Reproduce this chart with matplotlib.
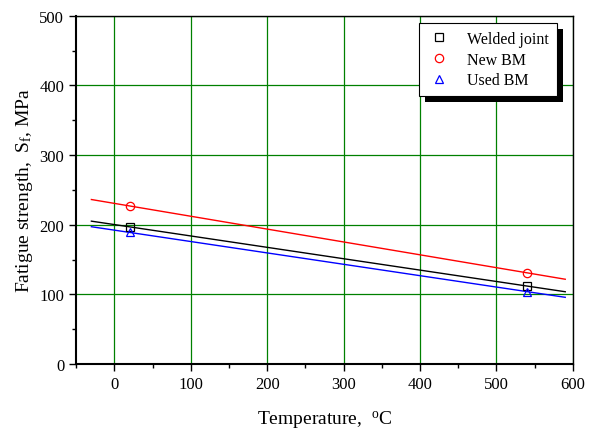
import matplotlib
matplotlib.use("Agg")
import matplotlib.pyplot as plt
from matplotlib.patches import Rectangle
import numpy as np

# measured points
temps = [20, 540]
welded = [197, 112]
new_bm = [227, 131]
used_bm = [189, 104]
fit_range = [-30, 590]

plt.rcParams['font.family'] = ['Liberation Serif', 'DejaVu Serif']
plt.rcParams['mathtext.fontset'] = 'custom'
plt.rcParams['mathtext.rm'] = 'Liberation Serif'
plt.rcParams['mathtext.it'] = 'Liberation Serif'


def main():
    font_size = 12
    fig = plt.figure(figsize=(5.9, 4.31), dpi=100)
    ax = fig.add_axes([0.129, 0.153, 0.842, 0.808])

    xs = np.array(fit_range, dtype=float)
    series = [
        (welded, 'k', 's', 'Welded joint'),
        (new_bm, 'red', 'o', 'New BM'),
        (used_bm, 'blue', '^', 'Used BM'),
    ]
    for vals, color, marker, label in series:
        slope, icpt = np.polyfit(temps, vals, 1)
        ax.plot(xs, slope * xs + icpt, color=color, lw=1.0, zorder=3)
        ax.plot(temps, vals, ls='none', marker=marker, ms=6, mfc='none',
                mec=color, mew=0.9, label=label, zorder=4)

    ax.set_xlim(-50, 600)
    ax.set_ylim(0, 500)
    ax.set_xticks(range(0, 601, 100))
    ax.set_xticks(range(-50, 601, 50), minor=True)
    ax.set_yticks(range(0, 501, 100))
    ax.set_yticks(range(0, 501, 50), minor=True)
    ax.tick_params(which='both', direction='out', labelsize=font_size)
    ax.tick_params(which='major', length=5, width=1)
    ax.tick_params(which='minor', length=3, width=1)
    ax.grid(which='major', color='#008000', lw=0.9)
    ax.set_axisbelow(True)
    for s in ax.spines.values():
        s.set_linewidth(1.0)
    ax.spines['left'].set_linewidth(1.5)
    ax.spines['bottom'].set_linewidth(1.5)

    ax.set_xlabel(r'Temperature,  $^{\mathrm{o}}$C', fontsize=font_size + 2, labelpad=12)
    ax.set_ylabel(r'Fatigue strength,  S$_{\mathrm{f}}$, MPa', fontsize=font_size + 2, labelpad=3)

    leg = ax.legend(loc='upper left', bbox_to_anchor=(0.69, 0.98), borderaxespad=0,
                    frameon=True, fancybox=False, edgecolor='k', framealpha=1,
                    fontsize=font_size - 0.5, handletextpad=1.0, labelspacing=0.3,
                    borderpad=0.5, handlelength=1.5)
    leg.get_frame().set_linewidth(0.8)

    fig.canvas.draw()
    bb = leg.get_window_extent()
    shadow = Rectangle((bb.x0 + 6, bb.y0 - 6), bb.width, bb.height,
                       transform=None, facecolor='k', edgecolor='none', zorder=4.9)
    ax.add_artist(shadow)
    leg.set_zorder(5)

    plt.savefig('out.png', dpi=100)


if __name__ == "__main__":
    main()
